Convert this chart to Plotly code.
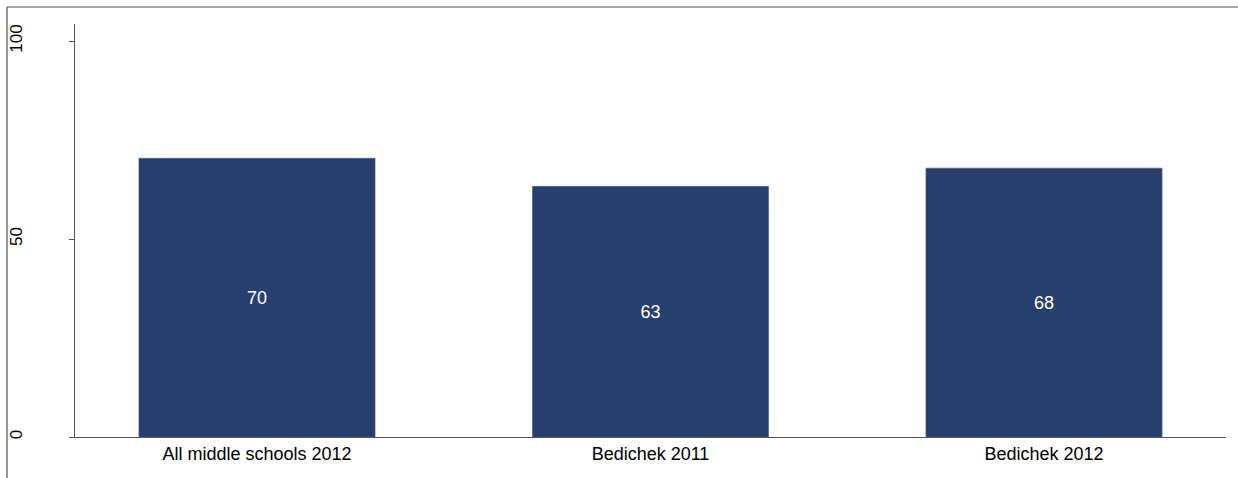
import plotly.graph_objects as go

categories = ["All middle schools 2012", "Bedichek 2011", "Bedichek 2012"]
values = [70.4, 63.3, 67.9]
labels = ["70", "63", "68"]
y_ticks = [0, 50, 100]

W, H = 1238, 478
L, R, T, B = 75, 12, 24, 41
pw, ph = W - L - R, H - T - B

def px_x(x):
    return (x - L) / pw

def px_y(y):
    return (H - B - y) / ph

FONT = "Liberation Sans, Arial"

fig = go.Figure(go.Bar(
    x=categories, y=values, text=labels,
    textposition="inside", insidetextanchor="middle",
    textfont=dict(color="white", size=18, family=FONT),
    marker=dict(color="#283f6d", line=dict(color="#4a5f8a", width=0.6)),
    width=0.6, hoverinfo="skip",
))

fig.update_layout(
    width=W, height=H,
    margin=dict(l=L, r=R, t=T, b=B, autoexpand=False),
    paper_bgcolor="white", plot_bgcolor="white",
    showlegend=False,
    font=dict(family=FONT, size=18, color="black"),
    xaxis=dict(
        range=[-0.4625, 2.4625], showline=True, linecolor="#555555", linewidth=1,
        ticks="", showgrid=False, zeroline=False, tickfont=dict(size=18),
        automargin=False,
    ),
    yaxis=dict(
        range=[0, 104.3], tickvals=y_ticks, showline=True, linecolor="#555555",
        linewidth=1, ticks="outside", ticklen=5, tickcolor="#555555",
        tickangle=-90, showgrid=False, zeroline=False, tickfont=dict(size=17),
        ticklabelstandoff=40, automargin=False,
    ),
    shapes=[
        dict(type="line", xref="paper", yref="paper",
             x0=px_x(7), x1=px_x(7), y0=px_y(H + 5), y1=px_y(7),
             line=dict(color="#555555", width=1.2)),
        dict(type="line", xref="paper", yref="paper",
             x0=px_x(7), x1=px_x(W + 5), y0=px_y(7), y1=px_y(7),
             line=dict(color="#555555", width=1.2)),
    ],
)

fig.write_html("out.html", config={"displayModeBar": False},
               post_script="document.body.style.margin='0';document.body.style.overflow='hidden';")
